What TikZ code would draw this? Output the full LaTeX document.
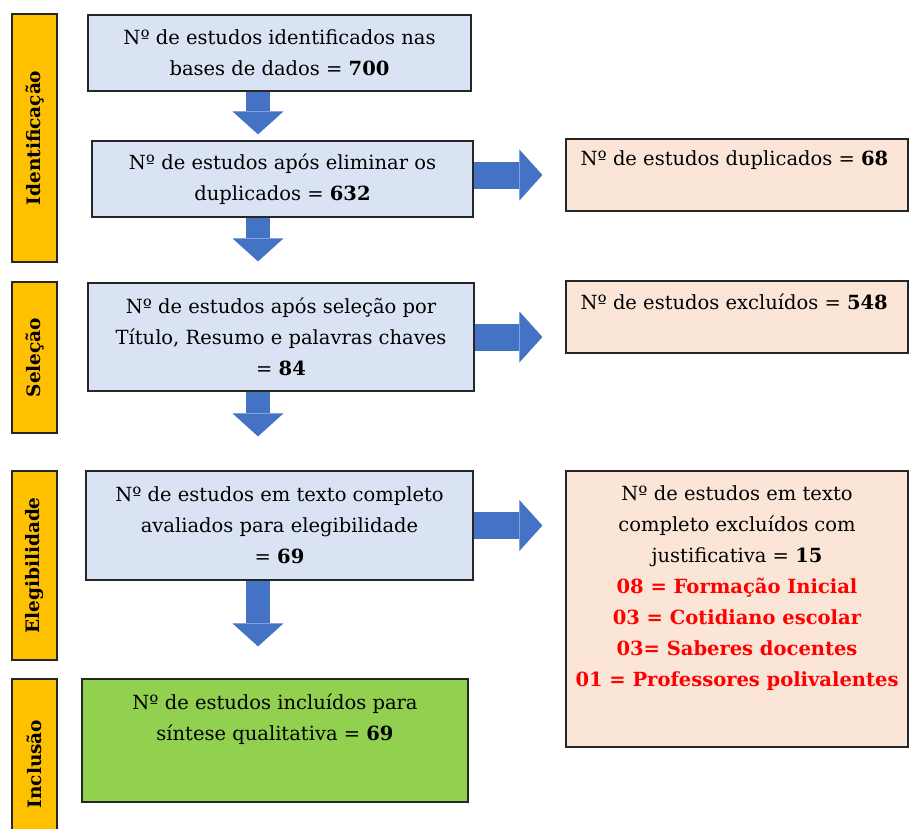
\documentclass[tikz,border=0pt]{standalone}
\usepackage{fontspec}
\setmainfont{DejaVu Serif}
\usetikzlibrary{positioning}
\usetikzlibrary{arrows.meta}
\definecolor{boxblue}{HTML}{DAE3F3}
\definecolor{phaseorange}{HTML}{FFC000}
\definecolor{peach}{HTML}{FBE5D6}
\definecolor{okgreen}{HTML}{92D050}
\definecolor{arrowblue}{HTML}{4472C4}
\newcommand{\boxfont}{\fontsize{19.5}{31}\selectfont}
\newcommand{\excl}[1]{\textcolor{red}{\textbf{#1}}}

\begin{document}
\begin{tikzpicture}[x=1pt,y=-1pt,
  box/.style={draw=black!85,line width=1.2pt,inner sep=0pt,align=center,font=\boxfont},
  stage/.style={box,fill=boxblue},
  outbox/.style={box,fill=peach},
  txt/.style={inner sep=0pt,align=center,font=\boxfont},
  phase/.style={draw=black!85,line width=1.2pt,fill=phaseorange,rotate=90,inner sep=0pt,
    minimum height=45pt,font=\bfseries\fontsize{18.5}{20}\selectfont},
  down/.style={draw=arrowblue,line width=24pt,shorten <=0.6pt,
    -{Triangle[length=23pt,width=51pt,line width=0pt]}},
  side/.style={down,line width=27pt}]
  \useasboundingbox (0,0) rectangle (910,828);
  % phases
  \node[phase,minimum width=248pt] (p1) at (34.5,138) {Identificação};
  \node[phase,minimum width=151pt] (p2) at (34.5,357.5) {Seleção};
  \node[phase,minimum width=189pt] (p3) at (34.5,565.5) {Elegibilidade};
  \node[phase,minimum width=170pt] (p4) at (34.5,764) {Inclusão};
  % main column
  \node[stage,minimum width=383pt,minimum height=76pt] (b1) at (279.5,53)
    {Nº de estudos identificados nas\\bases de dados = \textbf{700}};
  \node[stage,minimum width=381pt,minimum height=76pt] (b2) at (282.5,179)
    {Nº de estudos após eliminar os\\duplicados = \textbf{632}};
  \node[stage,minimum width=386pt,minimum height=108pt] (b3) at (281,337)
    {Nº de estudos após seleção por\\Título, Resumo e palavras chaves\\= \textbf{84}};
  \node[stage,minimum width=387pt,minimum height=109pt] (b4) at (279.5,525.5)
    {Nº de estudos em texto completo\\avaliados para elegibilidade\\= \textbf{69}};
  \node[box,fill=okgreen,minimum width=386pt,minimum height=123pt] (b5) at (275,740.5) {};
  \node[txt,below=15pt of b5.north] (b5t)
    {Nº de estudos incluídos para\\síntese qualitativa = \textbf{69}};
  % excluded
  \node[outbox,minimum width=342pt,minimum height=72pt] (r1) at (737,175) {};
  \node[txt,below right=12pt and 15pt of r1.north west] (r1t)
    {Nº de estudos duplicados = \textbf{68}};
  \node[outbox,minimum width=342pt,minimum height=72pt] (r2) at (737,317) {};
  \node[txt,below right=13pt and 15pt of r2.north west] (r2t)
    {Nº de estudos excluídos = \textbf{548}};
  \node[outbox,minimum width=342pt,minimum height=276pt] (r3) at (737,609) {};
  \node[txt,below=15pt of r3.north] (r3t)
    {Nº de estudos em texto\\completo excluídos com\\justificativa = \textbf{15}\\
     \excl{08 = Formação Inicial}\\\excl{03 = Cotidiano escolar}\\
     \excl{03= Saberes docentes}\\\excl{01 = Professores polivalentes}};
  % arrows
  \coordinate (ax) at (258,0);
  \draw[down,shorten >=6pt] (b1.south -| ax) -- (b2.north -| ax);
  \draw[down,shorten >=21pt] (b2.south -| ax) -- (b3.north -| ax);
  \draw[down,shorten >=34pt] (b3.south -| ax) -- (b4.north -| ax);
  \draw[down,shorten >=32pt] (b4.south -| ax) -- (b5.north -| ax);
  \draw[side,shorten >=23pt] (r1.west -| b2.east) -- (r1.west);
  \draw[side,shorten >=23pt] (b3.east) -- (b3.east -| r2.west);
  \draw[side,shorten >=23pt] (b4.east) -- (b4.east -| r3.west);
\end{tikzpicture}
\end{document}
